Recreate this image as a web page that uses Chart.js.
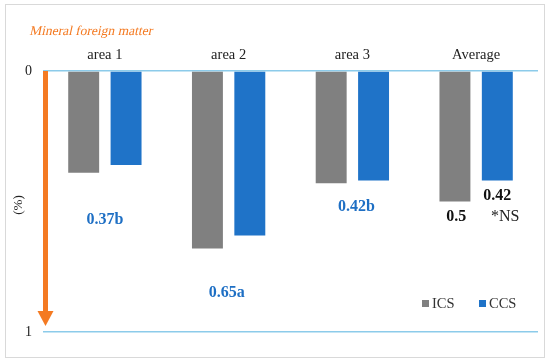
<!DOCTYPE html>
<html>
<head>
<meta charset="utf-8">
<script src="https://cdn.jsdelivr.net/npm/chart.js@4.4.0/dist/chart.umd.min.js"></script>
<style>
html, body { margin: 0; padding: 0; background: #fff; }
</style>
</head>
<body>
<canvas id="chart0" width="550" height="364"></canvas>
<script>
// データ
const categories = ['area 1', 'area 2', 'area 3', 'Average'];
const icsValues = [0.39, 0.68, 0.43, 0.50];
const ccsValues = [0.36, 0.63, 0.42, 0.42];
const seriesNames = ['ICS', 'CCS'];
const yTicks = [0, 1];
const noteTexts = ['0.37b', '0.65a', '0.42b', '0.5', '0.42', '*NS'];

const SERIF = "'Liberation Serif', 'Times New Roman', serif";
const GRAY = '#808080';
const BLUE = '#1f73c8';
const NOTE_BLUE = '#1e6fc4';
const ORANGE = '#f47a22';

// 注記の配置 (カテゴリ位置 + 値)
const notes = [
	{ text: noteTexts[0], cat: 0, dx: 0, y: 0.57, color: NOTE_BLUE, bold: true },
	{ text: noteTexts[1], cat: 1, dx: -2, y: 0.85, color: NOTE_BLUE, bold: true },
	{ text: noteTexts[2], cat: 2, dx: 4, y: 0.52, color: NOTE_BLUE, bold: true },
	{ text: noteTexts[3], cat: 3, dx: -20, y: 0.56, color: '#111', bold: true },
	{ text: noteTexts[4], cat: 3, dx: 21, y: 0.48, color: '#111', bold: true },
	{ text: noteTexts[5], cat: 3, dx: 29, y: 0.56, color: '#222', bold: false }
];

/**
 * 枠線、タイトル、矢印、注記、凡例の描画
 */
const decorPlugin = {
	id: 'decor',
	beforeDraw(chart) {
		const ctx = chart.ctx;
		ctx.save();
		ctx.fillStyle = '#fff';
		ctx.fillRect(0, 0, chart.width, chart.height);
		ctx.strokeStyle = '#d9d9d9';
		ctx.lineWidth = 1;
		ctx.strokeRect(5.5, 4.5, 539, 353);
		ctx.restore();
	},
	afterDraw(chart) {
		const ctx = chart.ctx;
		const x = chart.scales.x;
		const y = chart.scales.y;
		const area = chart.chartArea;
		ctx.save();

		// タイトル (斜体は変形で表現)
		ctx.save();
		ctx.translate(30, 31);
		ctx.transform(1, 0, -0.22, 1, 0, 0);
		ctx.fillStyle = ORANGE;
		ctx.font = '13.5px ' + SERIF;
		ctx.textAlign = 'left';
		ctx.textBaseline = 'middle';
		ctx.fillText('Mineral foreign matter', 0, 0);
		ctx.restore();

		// 軸タイトル
		ctx.save();
		ctx.translate(22, 205);
		ctx.rotate(-Math.PI / 2);
		ctx.fillStyle = '#222';
		ctx.font = '13px ' + SERIF;
		ctx.textAlign = 'center';
		ctx.fillText('(%)', 0, 0);
		ctx.restore();

		// 矢印
		const ax = area.left + 2.5;
		const top = y.getPixelForValue(0);
		const tip = y.getPixelForValue(1) - 6;
		ctx.fillStyle = ORANGE;
		ctx.fillRect(ax - 2.5, top, 5, tip - top - 14);
		ctx.beginPath();
		ctx.moveTo(ax - 8, tip - 15);
		ctx.lineTo(ax + 8, tip - 15);
		ctx.lineTo(ax, tip);
		ctx.closePath();
		ctx.fill();

		// 注記
		notes.forEach(n => {
			ctx.font = (n.bold ? 'bold ' : '') + '16px ' + SERIF;
			ctx.fillStyle = n.color;
			ctx.textAlign = 'center';
			ctx.textBaseline = 'middle';
			ctx.fillText(n.text, x.getPixelForValue(n.cat) + n.dx, y.getPixelForValue(n.y));
		});

		// 凡例
		const legendX = [422, 479];
		ctx.font = '14.5px ' + SERIF;
		ctx.textAlign = 'left';
		ctx.textBaseline = 'middle';
		chart.data.datasets.forEach((ds, i) => {
			ctx.fillStyle = ds.backgroundColor;
			ctx.fillRect(legendX[i], 300, 7, 7);
			ctx.fillStyle = '#333';
			ctx.fillText(ds.label, legendX[i] + 10, 304);
		});

		ctx.restore();
	}
};

let config = {
	type: 'bar',
	data: {
		labels: categories,
		datasets: [
			{ label: seriesNames[0], data: icsValues, backgroundColor: GRAY },
			{ label: seriesNames[1], data: ccsValues, backgroundColor: BLUE }
		]
	},
	options: {
		responsive: false,
		animation: false,
		devicePixelRatio: 1,
		categoryPercentage: 0.685,
		barPercentage: 0.73,
		layout: {
			padding: { left: 0, top: 41, right: 12, bottom: 32 }
		},
		scales: {
			x: {
				position: 'top',
				grid: { display: false, drawTicks: false },
				border: { display: false },
				ticks: {
					color: '#222',
					padding: 7,
					font: { family: SERIF, size: 14.5 }
				},
				afterFit(scale) { scale.height = 30; }
			},
			y: {
				reverse: true,
				min: 0,
				max: 1,
				afterBuildTicks(scale) {
					scale.ticks = yTicks.map(v => ({ value: v }));
				},
				grid: { color: '#8ccbea', lineWidth: 1.5, drawTicks: false },
				border: { display: false },
				ticks: {
					color: '#222',
					padding: 11,
					font: { family: SERIF, size: 14 }
				},
				afterFit(scale) { scale.width = 43; }
			}
		},
		plugins: {
			legend: { display: false },
			tooltip: { enabled: false }
		}
	},
	plugins: [decorPlugin]
};

let grapharea = document.getElementById('chart0').getContext('2d');
window.myChart = new Chart(grapharea, config);
</script>
</body>
</html>
